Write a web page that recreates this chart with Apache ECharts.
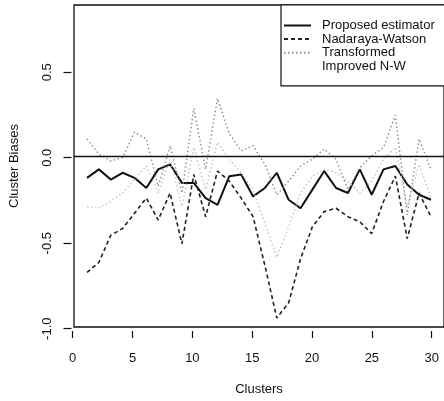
<!DOCTYPE html>
<html>
<head>
<meta charset="utf-8">
<script src="https://cdn.jsdelivr.net/npm/echarts@6/dist/echarts.min.js"></script>
<style>
html,body{margin:0;padding:0;background:#fff;}
#c{width:444px;height:401px;}
</style>
</head>
<body>
<div id="c"></div>
<script>
const clusters = [1,2,3,4,5,6,7,8,9,10,11,12,13,14,15,16,17,18,19,20,21,22,23,24,25,26,27,28,29,30];
const proposed = [-0.13,-0.08,-0.14,-0.10,-0.13,-0.19,-0.08,-0.05,-0.16,-0.16,-0.25,-0.29,-0.12,-0.11,-0.24,-0.19,-0.10,-0.26,-0.31,-0.20,-0.09,-0.19,-0.22,-0.08,-0.23,-0.08,-0.06,-0.17,-0.23,-0.26];
const nadarayaWatson = [-0.69,-0.63,-0.47,-0.43,-0.34,-0.25,-0.38,-0.22,-0.52,-0.11,-0.36,-0.09,-0.15,-0.25,-0.36,-0.65,-0.96,-0.87,-0.61,-0.42,-0.33,-0.31,-0.36,-0.39,-0.46,-0.27,-0.12,-0.49,-0.22,-0.36];
const transformed = [0.10,0.01,-0.03,-0.01,0.14,0.10,-0.18,0.06,-0.22,0.28,-0.08,0.34,0.13,0.03,0.06,-0.05,-0.23,-0.15,-0.06,-0.02,0.04,-0.02,-0.20,-0.07,0.00,0.05,0.24,-0.35,0.10,-0.08];
const improvedNW = [-0.30,-0.31,-0.27,-0.22,-0.14,-0.06,-0.22,-0.02,-0.30,0.05,-0.20,0.08,-0.02,-0.10,-0.20,-0.40,-0.60,-0.42,-0.22,-0.12,-0.08,-0.10,-0.15,-0.22,-0.15,-0.02,0.05,-0.30,-0.05,-0.25];
const xTickMin = 0, xTickMax = 30, xTickStep = 5;
const yTickMin = -1.0, yTickMax = 0.5, yTickStep = 0.5;
const seriesNames = ['Proposed estimator','Nadaraya-Watson','Transformed','Improved N-W'];

const pair = arr => clusters.map((c,i)=>[c, arr[i]]);
const font = 'Liberation Sans, Arial, Helvetica, sans-serif';
const hiddenParts = {axisLine:{show:false}, axisTick:{show:false}, axisLabel:{show:false}, splitLine:{show:false}};

const chart = echarts.init(document.getElementById('c'), null, {renderer:'canvas'});
chart.setOption({
  animation:false,
  backgroundColor:'#fff',
  grid:[
    {left:71.5, right:-1, top:5, bottom:70, show:true, borderColor:'#111', borderWidth:1.3, backgroundColor:'transparent'},
    {left:72.7, right:12.3, top:5, bottom:70, show:false},
    {left:71.5, right:-1, top:72.2, bottom:72.3, show:false}
  ],
  xAxis:[
    Object.assign({gridIndex:0, type:'value', min:-0.1, max:31.1,
      name:'Clusters', nameLocation:'middle', nameGap:56,
      nameTextStyle:{fontFamily:font, fontSize:13, color:'#111'}}, hiddenParts),
    {gridIndex:1, type:'value', min:xTickMin, max:xTickMax, interval:xTickStep,
      axisLine:{show:false, onZero:false},
      axisTick:{show:true, length:7, lineStyle:{color:'#111', width:1.2}},
      axisLabel:{margin:21, fontFamily:font, fontSize:13, color:'#111'},
      splitLine:{show:false}},
    Object.assign({gridIndex:2, type:'value', show:false}, hiddenParts)
  ],
  yAxis:[
    Object.assign({gridIndex:0, type:'value', min:-1.013, max:0.893,
      name:'Cluster Biases', nameLocation:'middle', nameGap:53, nameRotate:90,
      nameTextStyle:{fontFamily:font, fontSize:13, color:'#111'}}, hiddenParts),
    Object.assign({gridIndex:1, type:'value', show:false}, hiddenParts),
    {gridIndex:2, type:'value', min:yTickMin, max:yTickMax, interval:yTickStep,
      axisLine:{show:false, onZero:false},
      axisTick:{show:true, length:8, lineStyle:{color:'#111', width:1.2}},
      axisLabel:{rotate:90, margin:18, fontFamily:font, fontSize:13, color:'#111', formatter:v=>v.toFixed(1)},
      splitLine:{show:false}}
  ],
  legend:{
    show:true,
    orient:'vertical', left:281, top:5,
    padding:[14,11,13,2],
    itemWidth:27, itemHeight:14, itemGap:0.6,
    backgroundColor:'#fff', borderColor:'#111', borderWidth:1.2,
    itemStyle:{opacity:0},
    textStyle:{fontFamily:font, fontSize:13, color:'#111', padding:[0,0,0,6]},
    data:[
      {name:seriesNames[0]},
      {name:seriesNames[1]},
      {name:seriesNames[2]},
      {name:seriesNames[3], lineStyle:{opacity:0}}
    ]
  },
  series:[
    {name:seriesNames[0], type:'line', data:pair(proposed), symbol:'none', z:3,
     lineStyle:{color:'#111', width:2, type:'solid'}, itemStyle:{color:'#111'},
     markLine:{silent:true, symbol:['none','none'], label:{show:false},
       lineStyle:{color:'#111', width:1.3, type:'solid'}, data:[{yAxis:0}]}},
    {name:seriesNames[1], type:'line', data:pair(nadarayaWatson), symbol:'none', z:3,
     lineStyle:{color:'#222', width:1.6, type:[4,3]}, itemStyle:{color:'#222'}},
    {name:seriesNames[2], type:'line', data:pair(transformed), symbol:'none', z:3,
     lineStyle:{color:'#8c8c8c', width:1.4, type:[1.5,2.5]}, itemStyle:{color:'#8c8c8c'}},
    {name:seriesNames[3], type:'line', data:pair(improvedNW), symbol:'none', z:3,
     lineStyle:{color:'#c4c4c4', width:1.4, type:[1.5,2.5]}, itemStyle:{color:'#c4c4c4'}}
  ]
});
</script>
</body>
</html>
